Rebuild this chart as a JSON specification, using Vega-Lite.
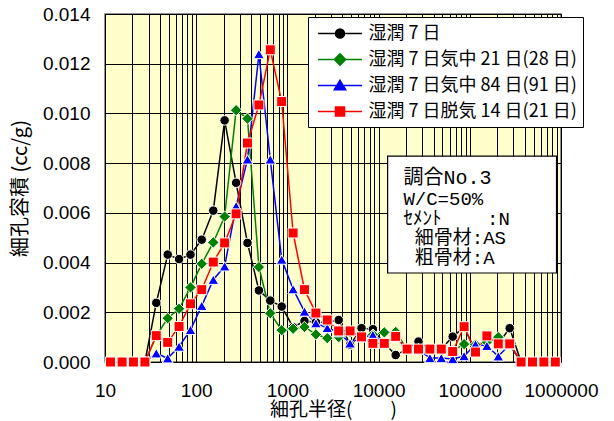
{
  "$schema": "https://vega.github.io/schema/vega-lite/v6.json",
  "width": 456,
  "height": 348,
  "autosize": {"type": "none"},
  "padding": {"left": 105, "top": 14, "right": 53, "bottom": 59},
  "background": "white",
  "config": {
    "view": {"fill": "#FFFFCC", "stroke": "#6e6e6e", "strokeWidth": 1.5},
    "axis": {
      "grid": true,
      "gridColor": "#000000",
      "gridWidth": 1,
      "gridOpacity": 1,
      "ticks": false,
      "tickSize": 0,
      "domain": false,
      "labelFont": "Liberation Sans",
      "labelFontSize": 19,
      "labelColor": "#000000",
      "labelOverlap": false,
      "labelFlush": false,
      "titleFont": "Noto Sans CJK JP",
      "titleFontSize": 20,
      "titleFontWeight": "normal",
      "titleColor": "#000000"
    },
    "legend": {
      "title": null,
      "orient": "none",
      "direction": "vertical",
      "legendX": 203,
      "legendY": 3,
      "fillColor": "white",
      "strokeColor": "black",
      "padding": 6,
      "labelFont": "Noto Sans CJK JP",
      "labelFontSize": 18,
      "labelColor": "#000000",
      "labelOffset": 18,
      "labelLimit": 400,
      "rowPadding": 6,
      "symbolSize": 361,
      "symbolOffset": 15.5,
      "symbolStrokeWidth": 1.5
    }
  },
  "datasets": {
    "pores": [
      {"radius": 11.5, "series": "湿潤 7 日", "volume": 0},
      {"radius": 15.4, "series": "湿潤 7 日", "volume": 0},
      {"radius": 20.5, "series": "湿潤 7 日", "volume": 0},
      {"radius": 27.4, "series": "湿潤 7 日", "volume": 0},
      {"radius": 36.5, "series": "湿潤 7 日", "volume": 0.00238},
      {"radius": 48.7, "series": "湿潤 7 日", "volume": 0.00432},
      {"radius": 64.9, "series": "湿潤 7 日", "volume": 0.00414},
      {"radius": 86.6, "series": "湿潤 7 日", "volume": 0.00432},
      {"radius": 115, "series": "湿潤 7 日", "volume": 0.00492},
      {"radius": 154, "series": "湿潤 7 日", "volume": 0.00609},
      {"radius": 205, "series": "湿潤 7 日", "volume": 0.00972},
      {"radius": 274, "series": "湿潤 7 日", "volume": 0.00721},
      {"radius": 365, "series": "湿潤 7 日", "volume": 0.00479},
      {"radius": 487, "series": "湿潤 7 日", "volume": 0.00288},
      {"radius": 649, "series": "湿潤 7 日", "volume": 0.00247},
      {"radius": 866, "series": "湿潤 7 日", "volume": 0.00223},
      {"radius": 1155, "series": "湿潤 7 日", "volume": 0.0014},
      {"radius": 1540, "series": "湿潤 7 日", "volume": 0.00165},
      {"radius": 2054, "series": "湿潤 7 日", "volume": 0.0016},
      {"radius": 2738, "series": "湿潤 7 日", "volume": 0.0016},
      {"radius": 3652, "series": "湿潤 7 日", "volume": 0.00169},
      {"radius": 4870, "series": "湿潤 7 日", "volume": 0.00069},
      {"radius": 6494, "series": "湿潤 7 日", "volume": 0.00136},
      {"radius": 8660, "series": "湿潤 7 日", "volume": 0.00132},
      {"radius": 11548, "series": "湿潤 7 日", "volume": 0.00075},
      {"radius": 15399, "series": "湿潤 7 日", "volume": 0.00028},
      {"radius": 20535, "series": "湿潤 7 日", "volume": 0.00052},
      {"radius": 27384, "series": "湿潤 7 日", "volume": 0.00082},
      {"radius": 36517, "series": "湿潤 7 日", "volume": 0.00052},
      {"radius": 48697, "series": "湿潤 7 日", "volume": 0.00052},
      {"radius": 64938, "series": "湿潤 7 日", "volume": 0.00102},
      {"radius": 86596, "series": "湿潤 7 日", "volume": 0.0014},
      {"radius": 115478, "series": "湿潤 7 日", "volume": 0.00045},
      {"radius": 153993, "series": "湿潤 7 日", "volume": 0.001},
      {"radius": 205353, "series": "湿潤 7 日", "volume": 0.00073},
      {"radius": 273842, "series": "湿潤 7 日", "volume": 0.00136},
      {"radius": 365174, "series": "湿潤 7 日", "volume": 0},
      {"radius": 486968, "series": "湿潤 7 日", "volume": 0},
      {"radius": 649382, "series": "湿潤 7 日", "volume": 0},
      {"radius": 865964, "series": "湿潤 7 日", "volume": 0},

      {"radius": 11.5, "series": "湿潤 7 日気中 21 日(28 日)", "volume": 0},
      {"radius": 15.4, "series": "湿潤 7 日気中 21 日(28 日)", "volume": 0},
      {"radius": 20.5, "series": "湿潤 7 日気中 21 日(28 日)", "volume": 0},
      {"radius": 27.4, "series": "湿潤 7 日気中 21 日(28 日)", "volume": 0},
      {"radius": 36.5, "series": "湿潤 7 日気中 21 日(28 日)", "volume": 0.00105},
      {"radius": 48.7, "series": "湿潤 7 日気中 21 日(28 日)", "volume": 0.00176},
      {"radius": 64.9, "series": "湿潤 7 日気中 21 日(28 日)", "volume": 0.00214},
      {"radius": 86.6, "series": "湿潤 7 日気中 21 日(28 日)", "volume": 0.003},
      {"radius": 115, "series": "湿潤 7 日気中 21 日(28 日)", "volume": 0.00395},
      {"radius": 154, "series": "湿潤 7 日気中 21 日(28 日)", "volume": 0.00481},
      {"radius": 205, "series": "湿潤 7 日気中 21 日(28 日)", "volume": 0.00585},
      {"radius": 274, "series": "湿潤 7 日気中 21 日(28 日)", "volume": 0.01013},
      {"radius": 365, "series": "湿潤 7 日気中 21 日(28 日)", "volume": 0.00979},
      {"radius": 487, "series": "湿潤 7 日気中 21 日(28 日)", "volume": 0.00382},
      {"radius": 649, "series": "湿潤 7 日気中 21 日(28 日)", "volume": 0.00196},
      {"radius": 866, "series": "湿潤 7 日気中 21 日(28 日)", "volume": 0.00128},
      {"radius": 1155, "series": "湿潤 7 日気中 21 日(28 日)", "volume": 0.00134},
      {"radius": 1540, "series": "湿潤 7 日気中 21 日(28 日)", "volume": 0.00141},
      {"radius": 2054, "series": "湿潤 7 日気中 21 日(28 日)", "volume": 0.00111},
      {"radius": 2738, "series": "湿潤 7 日気中 21 日(28 日)", "volume": 0.00096},
      {"radius": 3652, "series": "湿潤 7 日気中 21 日(28 日)", "volume": 0.001},
      {"radius": 4870, "series": "湿潤 7 日気中 21 日(28 日)", "volume": 0.0012},
      {"radius": 6494, "series": "湿潤 7 日気中 21 日(28 日)", "volume": 0.001},
      {"radius": 8660, "series": "湿潤 7 日気中 21 日(28 日)", "volume": 0.0011},
      {"radius": 11548, "series": "湿潤 7 日気中 21 日(28 日)", "volume": 0.00119},
      {"radius": 15399, "series": "湿潤 7 日気中 21 日(28 日)", "volume": 0.00121},
      {"radius": 20535, "series": "湿潤 7 日気中 21 日(28 日)", "volume": 0.00052},
      {"radius": 27384, "series": "湿潤 7 日気中 21 日(28 日)", "volume": 0.00052},
      {"radius": 36517, "series": "湿潤 7 日気中 21 日(28 日)", "volume": 0.00052},
      {"radius": 48697, "series": "湿潤 7 日気中 21 日(28 日)", "volume": 0.00052},
      {"radius": 64938, "series": "湿潤 7 日気中 21 日(28 日)", "volume": 0.00045},
      {"radius": 86596, "series": "湿潤 7 日気中 21 日(28 日)", "volume": 0.00072},
      {"radius": 115478, "series": "湿潤 7 日気中 21 日(28 日)", "volume": 0.0007},
      {"radius": 153993, "series": "湿潤 7 日気中 21 日(28 日)", "volume": 0.0008},
      {"radius": 205353, "series": "湿潤 7 日気中 21 日(28 日)", "volume": 0.001},
      {"radius": 273842, "series": "湿潤 7 日気中 21 日(28 日)", "volume": 0.0007},
      {"radius": 365174, "series": "湿潤 7 日気中 21 日(28 日)", "volume": 0},
      {"radius": 486968, "series": "湿潤 7 日気中 21 日(28 日)", "volume": 0},
      {"radius": 649382, "series": "湿潤 7 日気中 21 日(28 日)", "volume": 0},
      {"radius": 865964, "series": "湿潤 7 日気中 21 日(28 日)", "volume": 0},

      {"radius": 11.5, "series": "湿潤 7 日気中 84 日(91 日)", "volume": 0},
      {"radius": 15.4, "series": "湿潤 7 日気中 84 日(91 日)", "volume": 0},
      {"radius": 20.5, "series": "湿潤 7 日気中 84 日(91 日)", "volume": 0},
      {"radius": 27.4, "series": "湿潤 7 日気中 84 日(91 日)", "volume": 0},
      {"radius": 36.5, "series": "湿潤 7 日気中 84 日(91 日)", "volume": 0.00035},
      {"radius": 48.7, "series": "湿潤 7 日気中 84 日(91 日)", "volume": 0.00015},
      {"radius": 64.9, "series": "湿潤 7 日気中 84 日(91 日)", "volume": 0.00062},
      {"radius": 86.6, "series": "湿潤 7 日気中 84 日(91 日)", "volume": 0.00129},
      {"radius": 115, "series": "湿潤 7 日気中 84 日(91 日)", "volume": 0.00226},
      {"radius": 154, "series": "湿潤 7 日気中 84 日(91 日)", "volume": 0.00331},
      {"radius": 205, "series": "湿潤 7 日気中 84 日(91 日)", "volume": 0.00385},
      {"radius": 274, "series": "湿潤 7 日気中 84 日(91 日)", "volume": 0.00627},
      {"radius": 365, "series": "湿潤 7 日気中 84 日(91 日)", "volume": 0.00815},
      {"radius": 487, "series": "湿潤 7 日気中 84 日(91 日)", "volume": 0.01239},
      {"radius": 649, "series": "湿潤 7 日気中 84 日(91 日)", "volume": 0.00815},
      {"radius": 866, "series": "湿潤 7 日気中 84 日(91 日)", "volume": 0.00412},
      {"radius": 1155, "series": "湿潤 7 日気中 84 日(91 日)", "volume": 0.00293},
      {"radius": 1540, "series": "湿潤 7 日気中 84 日(91 日)", "volume": 0.00203},
      {"radius": 2054, "series": "湿潤 7 日気中 84 日(91 日)", "volume": 0.00156},
      {"radius": 2738, "series": "湿潤 7 日気中 84 日(91 日)", "volume": 0.00137},
      {"radius": 3652, "series": "湿潤 7 日気中 84 日(91 日)", "volume": 0.0012},
      {"radius": 4870, "series": "湿潤 7 日気中 84 日(91 日)", "volume": 0.00075},
      {"radius": 6494, "series": "湿潤 7 日気中 84 日(91 日)", "volume": 0.001},
      {"radius": 8660, "series": "湿潤 7 日気中 84 日(91 日)", "volume": 0.00109},
      {"radius": 11548, "series": "湿潤 7 日気中 84 日(91 日)", "volume": 0.00075},
      {"radius": 15399, "series": "湿潤 7 日気中 84 日(91 日)", "volume": 0.001},
      {"radius": 20535, "series": "湿潤 7 日気中 84 日(91 日)", "volume": 0.00052},
      {"radius": 27384, "series": "湿潤 7 日気中 84 日(91 日)", "volume": 0.0005},
      {"radius": 36517, "series": "湿潤 7 日気中 84 日(91 日)", "volume": 0.00016},
      {"radius": 48697, "series": "湿潤 7 日気中 84 日(91 日)", "volume": 0.00016},
      {"radius": 64938, "series": "湿潤 7 日気中 84 日(91 日)", "volume": 0.00012},
      {"radius": 86596, "series": "湿潤 7 日気中 84 日(91 日)", "volume": 0.00024},
      {"radius": 115478, "series": "湿潤 7 日気中 84 日(91 日)", "volume": 0.00071},
      {"radius": 153993, "series": "湿潤 7 日気中 84 日(91 日)", "volume": 0.00065},
      {"radius": 205353, "series": "湿潤 7 日気中 84 日(91 日)", "volume": 0.00023},
      {"radius": 273842, "series": "湿潤 7 日気中 84 日(91 日)", "volume": 0.0007},
      {"radius": 365174, "series": "湿潤 7 日気中 84 日(91 日)", "volume": 0},
      {"radius": 486968, "series": "湿潤 7 日気中 84 日(91 日)", "volume": 0},
      {"radius": 649382, "series": "湿潤 7 日気中 84 日(91 日)", "volume": 0},
      {"radius": 865964, "series": "湿潤 7 日気中 84 日(91 日)", "volume": 0},

      {"radius": 11.5, "series": "湿潤 7 日脱気 14 日(21 日)", "volume": 0},
      {"radius": 15.4, "series": "湿潤 7 日脱気 14 日(21 日)", "volume": 0},
      {"radius": 20.5, "series": "湿潤 7 日脱気 14 日(21 日)", "volume": 0},
      {"radius": 27.4, "series": "湿潤 7 日脱気 14 日(21 日)", "volume": 0},
      {"radius": 36.5, "series": "湿潤 7 日脱気 14 日(21 日)", "volume": 0.00106},
      {"radius": 48.7, "series": "湿潤 7 日脱気 14 日(21 日)", "volume": 0.00079},
      {"radius": 64.9, "series": "湿潤 7 日脱気 14 日(21 日)", "volume": 0.00143},
      {"radius": 86.6, "series": "湿潤 7 日脱気 14 日(21 日)", "volume": 0.00234},
      {"radius": 115, "series": "湿潤 7 日脱気 14 日(21 日)", "volume": 0.00291},
      {"radius": 154, "series": "湿潤 7 日脱気 14 日(21 日)", "volume": 0.00402},
      {"radius": 205, "series": "湿潤 7 日脱気 14 日(21 日)", "volume": 0.00479},
      {"radius": 274, "series": "湿潤 7 日脱気 14 日(21 日)", "volume": 0.00596},
      {"radius": 365, "series": "湿潤 7 日脱気 14 日(21 日)", "volume": 0.00881},
      {"radius": 487, "series": "湿潤 7 日脱気 14 日(21 日)", "volume": 0.01034},
      {"radius": 649, "series": "湿潤 7 日脱気 14 日(21 日)", "volume": 0.01256},
      {"radius": 866, "series": "湿潤 7 日脱気 14 日(21 日)", "volume": 0.01048},
      {"radius": 1155, "series": "湿潤 7 日脱気 14 日(21 日)", "volume": 0.00519},
      {"radius": 1540, "series": "湿潤 7 日脱気 14 日(21 日)", "volume": 0.00291},
      {"radius": 2054, "series": "湿潤 7 日脱気 14 日(21 日)", "volume": 0.00197},
      {"radius": 2738, "series": "湿潤 7 日脱気 14 日(21 日)", "volume": 0.00169},
      {"radius": 3652, "series": "湿潤 7 日脱気 14 日(21 日)", "volume": 0.00125},
      {"radius": 4870, "series": "湿潤 7 日脱気 14 日(21 日)", "volume": 0.00125},
      {"radius": 6494, "series": "湿潤 7 日脱気 14 日(21 日)", "volume": 0.00101},
      {"radius": 8660, "series": "湿潤 7 日脱気 14 日(21 日)", "volume": 0.00075},
      {"radius": 11548, "series": "湿潤 7 日脱気 14 日(21 日)", "volume": 0.00075},
      {"radius": 15399, "series": "湿潤 7 日脱気 14 日(21 日)", "volume": 0.00103},
      {"radius": 20535, "series": "湿潤 7 日脱気 14 日(21 日)", "volume": 0.00052},
      {"radius": 27384, "series": "湿潤 7 日脱気 14 日(21 日)", "volume": 0.00052},
      {"radius": 36517, "series": "湿潤 7 日脱気 14 日(21 日)", "volume": 0.00052},
      {"radius": 48697, "series": "湿潤 7 日脱気 14 日(21 日)", "volume": 0.00052},
      {"radius": 64938, "series": "湿潤 7 日脱気 14 日(21 日)", "volume": 0.00042},
      {"radius": 86596, "series": "湿潤 7 日脱気 14 日(21 日)", "volume": 0.00142},
      {"radius": 115478, "series": "湿潤 7 日脱気 14 日(21 日)", "volume": 0.0004},
      {"radius": 153993, "series": "湿潤 7 日脱気 14 日(21 日)", "volume": 0.00105},
      {"radius": 205353, "series": "湿潤 7 日脱気 14 日(21 日)", "volume": 0.00073},
      {"radius": 273842, "series": "湿潤 7 日脱気 14 日(21 日)", "volume": 0.00073},
      {"radius": 365174, "series": "湿潤 7 日脱気 14 日(21 日)", "volume": 0},
      {"radius": 486968, "series": "湿潤 7 日脱気 14 日(21 日)", "volume": 0},
      {"radius": 649382, "series": "湿潤 7 日脱気 14 日(21 日)", "volume": 0},
      {"radius": 865964, "series": "湿潤 7 日脱気 14 日(21 日)", "volume": 0}
    ]
  },
  "layer": [
    {
      "data": {"name": "pores"},
      "mark": {"type": "line", "strokeWidth": 1.5},
      "encoding": {
        "x": {
          "field": "radius",
          "type": "quantitative",
          "title": "細孔半径(　　)",
          "scale": {"type": "log", "domain": [10, 1000000], "nice": false},
          "axis": {
            "values": [10, 20, 30, 40, 50, 60, 70, 80, 90, 100, 200, 300, 400, 500, 600, 700, 800, 900, 1000, 2000, 3000, 4000, 5000, 6000, 7000, 8000, 9000, 10000, 20000, 30000, 40000, 50000, 60000, 70000, 80000, 90000, 100000, 200000, 300000, 400000, 500000, 600000, 700000, 800000, 900000, 1000000],
            "format": "d",
            "labelExpr": "indexof([10, 100, 1000, 10000, 100000, 1000000], datum.value) >= 0 ? datum.label : ''",
            "labelPadding": 19,
            "titleFontSize": 19,
            "titlePadding": 0
          }
        },
        "y": {
          "field": "volume",
          "type": "quantitative",
          "title": "細孔容積 (cc/g)",
          "scale": {"domain": [0, 0.014], "nice": false},
          "axis": {
            "values": [0, 0.002, 0.004, 0.006, 0.008, 0.01, 0.012, 0.014],
            "format": ".3f",
            "labelPadding": 15,
            "titlePadding": 12
          }
        },
        "color": {
          "field": "series",
          "type": "nominal",
          "scale": {
            "domain": ["湿潤 7 日", "湿潤 7 日気中 21 日(28 日)", "湿潤 7 日気中 84 日(91 日)", "湿潤 7 日脱気 14 日(21 日)"],
            "range": ["#000000", "#008000", "#0000FF", "#FF0000"]
          },
          "legend": {
            "symbolType": "M-2.32,0L2.32,0",
            "encode": {
              "symbols": {
                "update": {
                  "shape": {"signal": "datum.index === 0 ? 'M-2.32,0L2.32,0M-0.47,0A0.47,0.47,0,1,0,0.47,0A0.47,0.47,0,1,0,-0.47,0Z' : datum.index === 1 ? 'M-2.32,0L2.32,0M0,-0.6L0.6,0L0,0.6L-0.6,0Z' : datum.index === 2 ? 'M-2.32,0L2.32,0M0,-0.55L0.6,0.45L-0.6,0.45Z' : 'M-2.32,0L2.32,0M-0.47,-0.47L0.47,-0.47L0.47,0.47L-0.47,0.47Z'"},
                  "fill": {"signal": "datum.index === 0 ? '#000000' : datum.index === 1 ? '#008000' : datum.index === 2 ? '#0000FF' : '#FF0000'"},
                  "stroke": {"signal": "datum.index === 0 ? '#000000' : datum.index === 1 ? '#008000' : datum.index === 2 ? '#0000FF' : '#FF0000'"},
                  "opacity": {"value": 1}
                }
              }
            }
          }
        }
      }
    },
    {
      "data": {"name": "pores"},
      "transform": [{"filter": "datum.series === '湿潤 7 日'"}],
      "mark": {"type": "point", "shape": "circle", "size": 90, "filled": true, "fill": "#000000", "opacity": 1, "stroke": "white", "strokeWidth": 1},
      "encoding": {
        "x": {"field": "radius", "type": "quantitative"},
        "y": {"field": "volume", "type": "quantitative"}
      }
    },
    {
      "data": {"name": "pores"},
      "transform": [{"filter": "datum.series === '湿潤 7 日気中 21 日(28 日)'"}],
      "mark": {"type": "point", "shape": "diamond", "size": 130, "filled": true, "fill": "#008000", "opacity": 1, "stroke": "white", "strokeWidth": 1},
      "encoding": {
        "x": {"field": "radius", "type": "quantitative"},
        "y": {"field": "volume", "type": "quantitative"}
      }
    },
    {
      "data": {"name": "pores"},
      "transform": [{"filter": "datum.series === '湿潤 7 日気中 84 日(91 日)'"}],
      "mark": {"type": "point", "shape": "triangle-up", "size": 115, "filled": true, "fill": "#0000FF", "opacity": 1, "stroke": "white", "strokeWidth": 1},
      "encoding": {
        "x": {"field": "radius", "type": "quantitative"},
        "y": {"field": "volume", "type": "quantitative"}
      }
    },
    {
      "data": {"name": "pores"},
      "transform": [{"filter": "datum.series === '湿潤 7 日脱気 14 日(21 日)'"}],
      "mark": {"type": "point", "shape": "square", "size": 100, "filled": true, "fill": "#FF0000", "opacity": 1, "stroke": "white", "strokeWidth": 1},
      "encoding": {
        "x": {"field": "radius", "type": "quantitative"},
        "y": {"field": "volume", "type": "quantitative"}
      }
    },
    {
      "data": {"values": [{}]},
      "mark": {"type": "rect", "fill": "white", "stroke": "black", "strokeWidth": 1.2},
      "encoding": {
        "x": {"datum": 12560, "type": "quantitative"},
        "x2": {"datum": 893000},
        "y": {"datum": 0.00828, "type": "quantitative"},
        "y2": {"datum": 0.00358}
      }
    },
    {
      "data": {"values": [{}]},
      "mark": {
        "type": "text",
        "text": "調合No.3",
        "align": "left",
        "baseline": "middle",
        "font": "Liberation Mono, Noto Sans CJK JP",
        "fontSize": 20,
        "color": "#000000"
      },
      "encoding": {
        "x": {"datum": 18700, "type": "quantitative"},
        "y": {"datum": 0.0074, "type": "quantitative"}
      }
    },
    {
      "data": {"values": [{}]},
      "mark": {
        "type": "text",
        "text": ["W/C=50%", "ｾﾒﾝﾄ\u00a0\u00a0\u00a0\u00a0:N", "\u200b\u00a0細骨材:AS", "\u200b\u00a0粗骨材:A"],
        "align": "left",
        "baseline": "middle",
        "lineHeight": 19.4,
        "font": "Liberation Mono, Noto Sans CJK JP",
        "fontSize": 19,
        "color": "#000000"
      },
      "encoding": {
        "x": {"datum": 18700, "type": "quantitative"},
        "y": {"datum": 0.00654, "type": "quantitative"}
      }
    }
  ]
}
